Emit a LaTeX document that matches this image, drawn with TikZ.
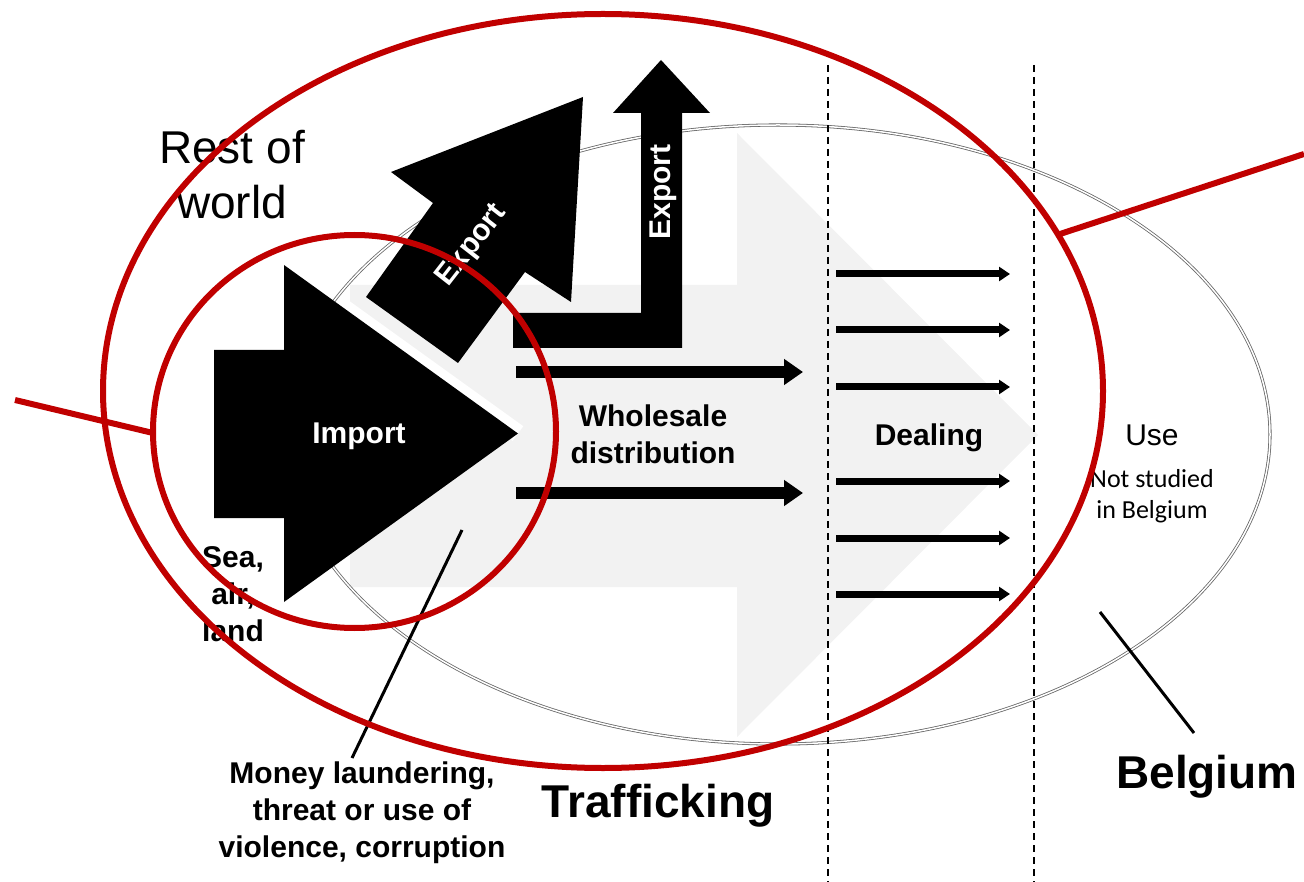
\documentclass[tikz,border=0pt]{standalone}
\usepackage{fontspec}
\setmainfont{Liberation Sans}
\newfontfamily\calibrifont{Carlito}
\usetikzlibrary{arrows.meta}
\definecolor{darkred}{HTML}{C00000}
\definecolor{lightgrey}{HTML}{F2F2F2}
\begin{document}
\begin{tikzpicture}[x=1pt,y=-1pt,
  redring/.style={draw=darkred, line width=6pt},
  redpointer/.style={draw=darkred, line width=6pt},
  pointer/.style={draw=black, line width=3pt},
  divider/.style={draw=black, line width=1.3pt, dash pattern=on 7pt off 5pt},
  flowarrow/.style={line width=12pt, -{Triangle[length=19pt,width=25pt]}},
  dealarrow/.style={line width=7pt, -{Triangle[length=11pt,width=14pt]}},
  blockarrow/.style={fill=black},
  countryring/.style={draw=black!60, line width=0.8pt, double=white, double distance=1.5pt},
  lblb/.style={inner sep=0pt, anchor=base, align=center, font=\fontsize{30}{37}\selectfont\bfseries},
  lblbig/.style={inner sep=0pt, anchor=base, align=center, font=\fontsize{46}{55}\selectfont\bfseries},
  lblreg/.style={inner sep=0pt, anchor=base, align=center, font=\fontsize{46}{55}\selectfont},
  lbluse/.style={inner sep=0pt, anchor=base, align=center, font=\fontsize{30}{37}\selectfont},
  lblsmall/.style={inner sep=0pt, anchor=base, align=center, font=\calibrifont\fontsize{26}{31}\selectfont},
  arrowtxt/.style={inner sep=0pt, anchor=center, text=white, font=\fontsize{30}{37}\selectfont\bfseries}
]
\useasboundingbox (0,0) rectangle (1304,882);

% background grey flow arrow
\fill[lightgrey] (350,285) -- (737,285) -- (737,133) -- (1038,435) -- (737,737) -- (737,587) -- (350,587) -- cycle;
% white gap along import head
\draw[white, line width=18pt] (284,265) -- (518,433.5);

% Belgium ellipse
\draw[countryring] (778,434.5) ellipse [x radius=492pt, y radius=309.5pt];

% dividers
\coordinate (d1top) at (828,65);
\coordinate (d1bot) at (828,882);
\coordinate (d2top) at (1034,65);
\coordinate (d2bot) at (1034,882);
\draw[divider] (d1top) -- (d1bot);
\draw[divider] (d2top) -- (d2bot);

% import arrow
\fill[blockarrow] (214,350) -- (284,350) -- (284,265) -- (518,433.5) -- (284,602) -- (284,518) -- (214,518) -- cycle;
% diagonal export arrow
\fill[blockarrow] (366,297) -- (433,203) -- (391,172) -- (583,97) -- (571,302) -- (525,272) -- (458,363) -- cycle;
% bent export arrow
\fill[blockarrow] (513,313) -- (641,313) -- (641,113) -- (613,113) -- (661,60) -- (710,113) -- (682,113) -- (682,348) -- (513,348) -- cycle;

% wholesale flow arrows
\coordinate (w1s) at (516,372); \coordinate (w1e) at (803,372);
\coordinate (w2s) at (516,493); \coordinate (w2e) at (803,493);
\draw[flowarrow] (w1s) -- (w1e);
\draw[flowarrow] (w2s) -- (w2e);

% dealing arrows
\foreach \i/\yy in {1/274,2/330,3/387,4/481,5/538,6/594}{
  \coordinate (ds\i) at (836,\yy);
  \coordinate (de\i) at (1010,\yy);
  \draw[dealarrow] (ds\i) -- (de\i);
}

% texts (base anchor = baseline of last line)
\node[arrowtxt] (imptxt) at (359,436) {Import};
\node[arrowtxt, rotate=52] (exp1) at (472,246) {Export};
\node[arrowtxt, rotate=90] (exp2) at (663,192) {Export};
\node[lblreg] (rest) at (232,219) {Rest of\\world};
\node[lblb] (whole) at (653,464) {Wholesale\\distribution};
\node[lblb] (deal) at (929,446) {Dealing};
\node[lbluse] (use) at (1152,446) {Use};
\node[lblsmall] (notstud) at (1152,518) {Not studied\\in Belgium};
\node[lblb] (sea) at (233,641) {Sea,\\air,\\land};
\node[lblb] (money) at (362,857) {Money laundering,\\threat or use of\\violence, corruption};
\node[lblbig] (traff) at (658,817) {Trafficking};
\node[lblbig] (belg) at (1207,788) {Belgium};

% pointer lines
\coordinate (mp) at (462,530);
\coordinate (mt) at (352,758);
\draw[pointer] (mp) -- (mt);
\coordinate (bp) at (1100,612);
\coordinate (bt) at (1194,733);
\draw[pointer] (bp) -- (bt);

% red rings
\draw[redring] (603,391) ellipse [x radius=500pt, y radius=377pt];
\draw[redring] (354.5,431.5) ellipse [x radius=201.5pt, y radius=196.5pt];
\coordinate (rl1) at (15,400);
\coordinate (rl2) at (153,433);
\draw[redpointer] (rl1) -- (rl2);
\coordinate (rr1) at (1060,234);
\coordinate (rr2) at (1304,154);
\draw[redpointer] (rr1) -- (rr2);
\end{tikzpicture}
\end{document}
